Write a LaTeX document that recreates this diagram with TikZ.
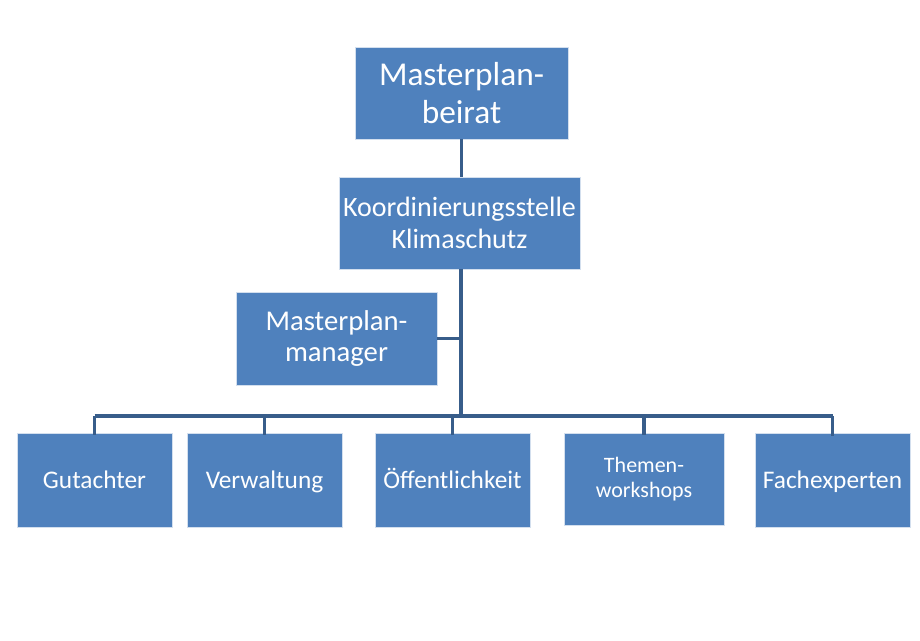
\documentclass[tikz,border=0pt]{standalone}
\usepackage{fontspec}
\setmainfont{Carlito}
\definecolor{boxblue}{HTML}{4F81BD}
\definecolor{lineblue}{HTML}{385D8A}
\begin{document}
\begin{tikzpicture}[x=0.75pt,y=0.75pt,yscale=-1,xscale=1,
		orgbox/.style={fill=boxblue, draw=white!75!boxblue, line width=0.6pt, text=white, align=center, inner sep=0pt, minimum height=69pt},
		lowbox/.style={orgbox, minimum width=116.25pt, minimum height=70.5pt, text height=16pt, text depth=4pt, font=\fontsize{19}{23}\selectfont},
		link/.style={draw=lineblue, line width=2.5pt}]
	\path[use as bounding box] (0,0) rectangle (920,640);
	
	% Boxes
	\node [orgbox, minimum width=159.75pt, font=\fontsize{25}{29}\selectfont] (beirat) at (461.5,93) {Masterplan-\\beirat};
	\node [orgbox, minimum width=180.75pt, font=\fontsize{21}{24}\selectfont] (koord) at (459.5,223) {Koordinierungsstelle\\Klimaschutz};
	\node [orgbox, minimum width=150.75pt, minimum height=69.75pt, font=\fontsize{21.5}{23.5}\selectfont] (manager) at (336.5,338.5) {Masterplan-\\manager};
	
	\node [lowbox] (gutachter) at (94.5,480) {Gutachter};
	\node [lowbox] (verwaltung) at (264.5,480) {Verwaltung};
	\node [lowbox] (oeffentlich) at (452.5,480) {Öffentlichkeit};
	\node [orgbox, minimum width=120pt, font=\fontsize{16.5}{18.5}\selectfont] (themen) at (644,479) {Themen-\\workshops};
	\node [lowbox] (fachexp) at (832.5,480.5) {Fachexperten};
	
	% Connectors
	\coordinate (bus) at (461,416);
	\draw [link] (beirat.south) -- (beirat.south |- koord.north);
	\draw [link] (koord.south -| bus) -- (bus);
	\draw [link] (manager.east) -- (manager.east -| bus);
	\draw [link] (gutachter.north |- bus) -- (fachexp.north |- bus);
	\foreach \n in {gutachter,verwaltung,oeffentlich,themen,fachexp}
		\draw [link] (\n.north |- bus) -- ([yshift=2pt]\n.north);
\end{tikzpicture}
\end{document}
